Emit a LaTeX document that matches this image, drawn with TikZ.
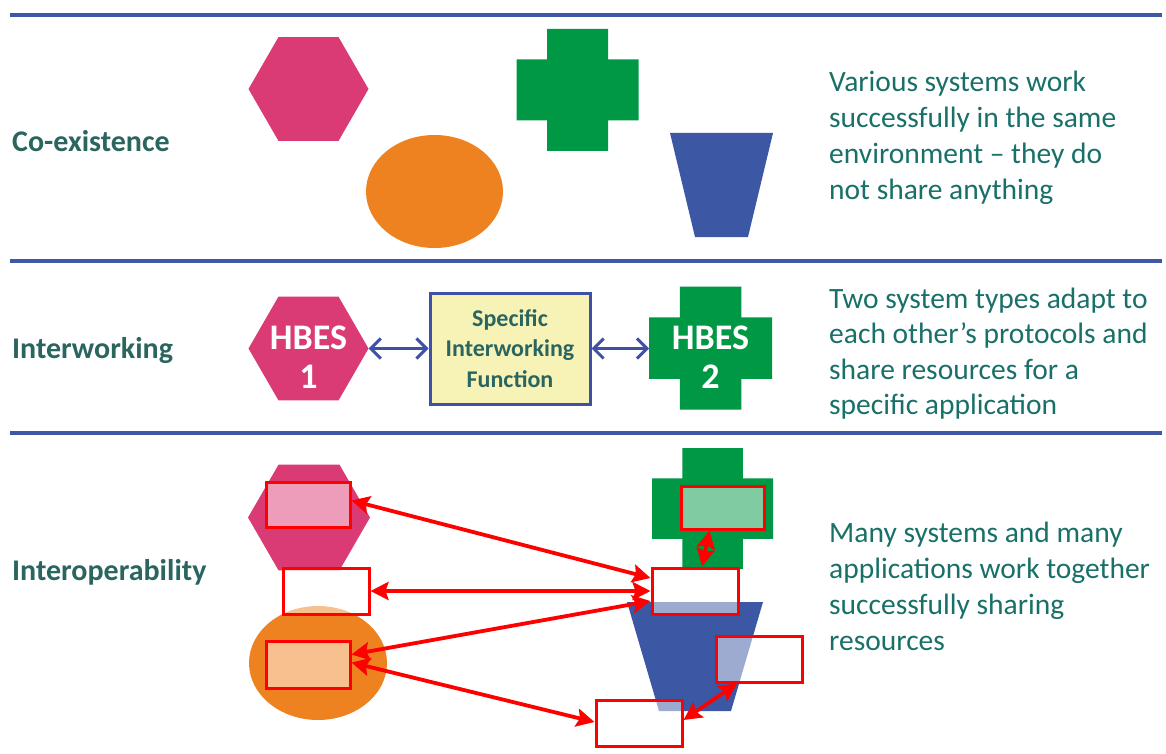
\documentclass[tikz,border=0pt]{standalone}
\usepackage{fontspec}
\setmainfont{Carlito}
\usetikzlibrary{shapes.geometric,arrows.meta,calc}
\definecolor{sepblue}{RGB}{63,87,165}
\definecolor{boxblue}{RGB}{63,81,165}
\definecolor{boxyellow}{RGB}{247,243,183}
\definecolor{labelteal}{RGB}{42,101,96}
\definecolor{descteal}{RGB}{24,112,104}
\definecolor{cpink}{RGB}{219,59,116}
\definecolor{corange}{RGB}{238,129,32}
\definecolor{cgreen}{RGB}{0,152,69}
\definecolor{cblue}{RGB}{60,88,164}
\newcommand{\plusat}[3]{%
  \fill[cgreen] ({#1-#3/2},{#2-#3}) -- ({#1+#3/2},{#2-#3}) -- ({#1+#3/2},{#2-#3/2}) -- ({#1+#3},{#2-#3/2}) -- ({#1+#3},{#2+#3/2}) -- ({#1+#3/2},{#2+#3/2}) -- ({#1+#3/2},{#2+#3}) -- ({#1-#3/2},{#2+#3}) -- ({#1-#3/2},{#2+#3/2}) -- ({#1-#3},{#2+#3/2}) -- ({#1-#3},{#2-#3/2}) -- ({#1-#3/2},{#2-#3/2}) -- cycle;}
\begin{document}
\begin{tikzpicture}[x=1pt,y=-1pt,
  sepline/.style={draw=sepblue,line width=3.5pt},
  sect/.style={anchor=base west,inner sep=0pt,text=labelteal,font=\fontsize{30}{36}\selectfont\bfseries},
  desc/.style={anchor=base west,inner sep=0pt,text=descteal,font=\fontsize{29.5}{36}\selectfont},
  hexa/.style={regular polygon,regular polygon sides=6,fill=cpink,minimum size=120pt,inner sep=0pt},
  oval/.style={ellipse,fill=corange,inner sep=0pt},
  hbes/.style={text=white,align=center,inner sep=0pt,font=\fontsize{36}{39}\selectfont\bfseries},
  ifbox/.style={draw=boxblue,line width=3pt,fill=boxyellow,minimum width=160pt,minimum height=111pt,inner sep=0pt,align=center,text=labelteal,font=\fontsize{24}{30.5}\selectfont\bfseries},
  appbox/.style={draw=red,line width=3pt,fill=white,fill opacity=0.5,minimum width=86pt,minimum height=46pt,inner sep=0pt},
  barrow/.style={draw=boxblue,line width=3pt,{Straight Barb[length=10pt,width=20pt]}-{Straight Barb[length=10pt,width=20pt]}},
  rarrow/.style={draw=red,line width=3.8pt,{Stealth[length=18pt,width=18pt,inset=3pt]}-{Stealth[length=18pt,width=18pt,inset=3pt]}}
]
\path[use as bounding box] (0,0) rectangle (1166,754);

% separator lines
\coordinate (l1a) at (10,15);  \coordinate (l1b) at (1162,15);
\coordinate (l2a) at (10,261); \coordinate (l2b) at (1162,261);
\coordinate (l3a) at (10,433); \coordinate (l3b) at (1162,433);
\draw[sepline] (l1a) -- (l1b);
\draw[sepline] (l2a) -- (l2b);
\draw[sepline] (l3a) -- (l3b);

% section labels
\node[sect] (s1) at (12,152) {Co-existence};
\node[sect] (s2) at (12,358) {Interworking};
\node[sect] (s3) at (12,580) {Interoperability};

% descriptions
\foreach \t [count=\i from 0] in {Various systems work,successfully in the same,environment – they do,not share anything}
  \node[desc] (da\i) at (829,{92+36*\i}) {\t};
\foreach \t [count=\i from 0] in {Two system types adapt to,each other’s protocols and,share resources for a,specific application}
  \node[desc] (db\i) at (829,{308+35.5*\i}) {\t};
\foreach \t [count=\i from 0] in {Many systems and many,applications work together,successfully sharing,resources}
  \node[desc] (dc\i) at (829,{542+36*\i}) {\t};

% ---- co-existence
\node[hexa] (hx1) at (308.5,89) {};
\node[oval,minimum width=137pt,minimum height=113pt] (ov1) at (434.5,191.5) {};
\plusat{577.5}{90}{61}
\fill[cblue] (670,133) -- (773,133) -- (748,237) -- (695,237) -- cycle;

% ---- interworking
\node[hexa] (hx2) at (308.5,348.5) {};
\node[hbes] (t1) at (308.5,357) {HBES\\1};
\plusat{710.5}{348}{61.5}
\coordinate (c2w) at (649,348.5);
\node[hbes] (t2) at (710.5,357) {HBES\\2};
\node[ifbox] (iwf) at (510,348.5) {Specific\\Interworking\\Function};
\draw[barrow] (hx2.east) -- (iwf.west);
\draw[barrow] (iwf.east) -- (c2w);

% ---- interoperability
\node[hexa,minimum size=122pt] (hx3) at (309,517.5) {};
\node[oval,minimum width=138pt,minimum height=114pt] (ov3) at (318,663) {};
\plusat{712.5}{508.5}{60.5}
\fill[cblue] (627,602) -- (763,602) -- (731,711) -- (659,711) -- cycle;

\node[appbox,minimum width=84pt,minimum height=45pt] (rP) at (308,504.5) {};
\node[appbox] (rW) at (326,591) {};
\node[appbox,minimum width=84pt,minimum height=47pt] (rO) at (308,664.5) {};
\node[appbox,minimum width=83pt,minimum height=43pt] (rG) at (722.5,507.5) {};
\node[appbox] (rC) at (695,591) {};
\node[appbox] (rR) at (759,659) {};
\node[appbox] (rB) at (639,723) {};

\draw[rarrow] ($(rP.east)+(0,-4)$) -- ($(rC.west)+(0,-13)$);
\draw[rarrow] (rW.east) -- (rC.west);
\draw[rarrow] ($(rO.east)+(0,-10)$) -- ($(rC.west)+(0,10)$);
\draw[rarrow] ($(rO.east)+(0,-2)$) -- ($(rB.west)+(0,-1)$);
\draw[rarrow] ($(rG.south)+(-13,0)$) -- ($(rC.north)+(7,0)$);
\draw[rarrow] ($(rR.south)+(-22,0)$) -- ($(rB.east)+(0,-3)$);
\end{tikzpicture}
\end{document}
